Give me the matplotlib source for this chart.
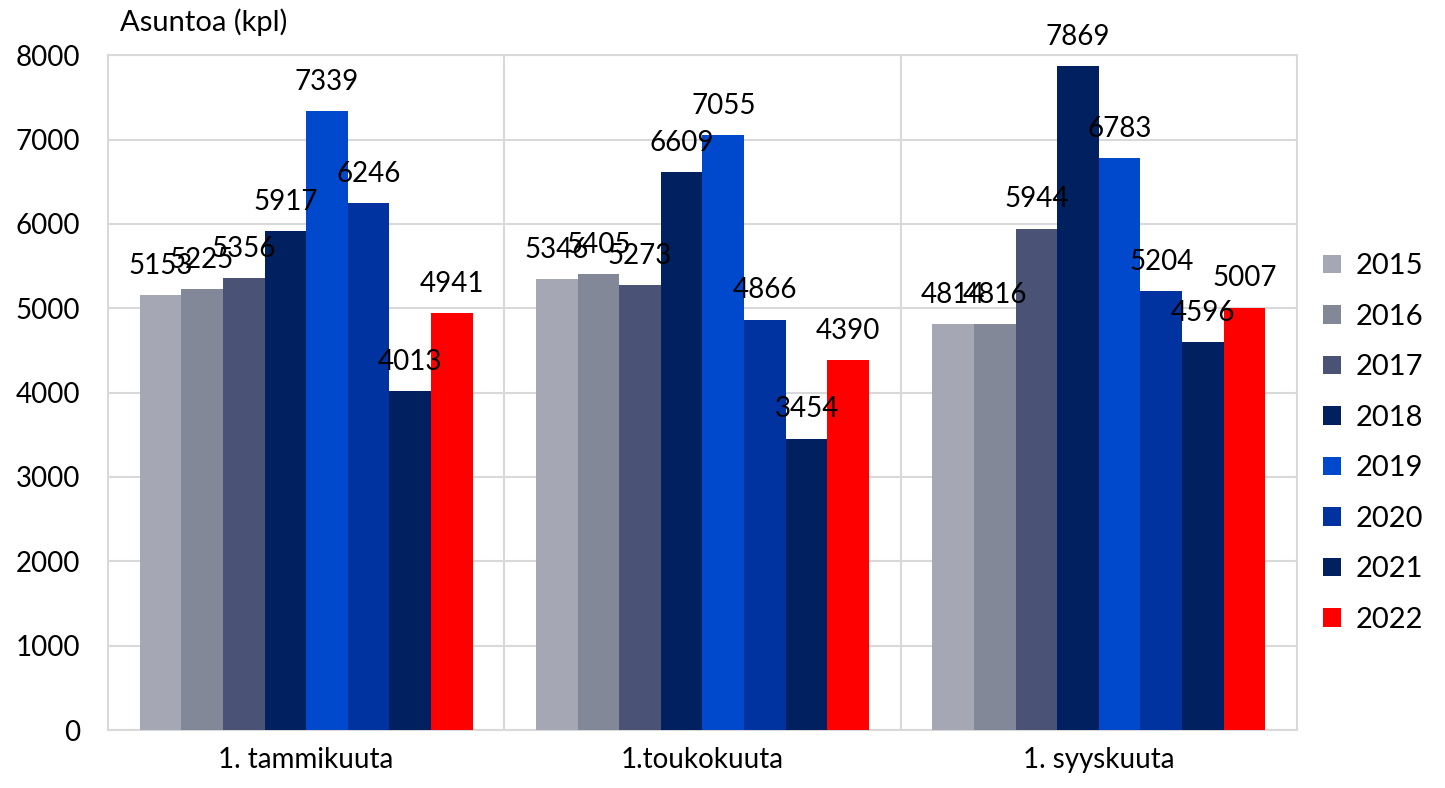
import numpy as np
import matplotlib
matplotlib.use("Agg")
import matplotlib.pyplot as plt

plt.rcParams['font.family'] = ['Lato', 'DejaVu Sans']

categories = ["1. tammikuuta", "1.toukokuuta", "1. syyskuuta"]
years = ["2015", "2016", "2017", "2018", "2019", "2020", "2021", "2022"]
values = {
    "2015": [5153, 5346, 4814],
    "2016": [5225, 5405, 4816],
    "2017": [5356, 5273, 5944],
    "2018": [5917, 6609, 7869],
    "2019": [7339, 7055, 6783],
    "2020": [6246, 4866, 5204],
    "2021": [4013, 3454, 4596],
    "2022": [4941, 4390, 5007],
}
colors = ["#A5A7B5", "#838899", "#4A5275", "#002060",
          "#0048CC", "#0033A0", "#002060", "#FF0000"]

fig = plt.figure(figsize=(14.45, 7.88), dpi=100)
ax = fig.add_axes([0.0747, 0.0736, 0.8229, 0.8564])

x = np.arange(len(categories))
width = 0.105
for i, yr in enumerate(years):
    pos = x + (i - 3.5) * width
    bars = ax.bar(pos, values[yr], width, color=colors[i], label=yr, zorder=3)
    for b, v in zip(bars, values[yr]):
        ax.annotate(str(v), (b.get_x() + b.get_width() / 2, v),
                    xytext=(0, 21), textcoords="offset points",
                    ha="center", va="center", fontsize=20, zorder=4)

ax.set_xlim(-0.5, 2.5)
ax.set_ylim(0, 8000)
ax.set_yticks(range(0, 8001, 1000))
ax.set_xticks(x)
ax.set_xticklabels(categories, fontsize=20)
ax.tick_params(axis='y', labelsize=20, length=0, pad=20)
ax.tick_params(axis='x', length=0, pad=12)
ax.grid(axis='y', color='#D9D9D9', linewidth=1.5, zorder=0)
for xv in [0.5, 1.5]:
    ax.axvline(xv, color='#D9D9D9', linewidth=1.5, zorder=0)
for s in ax.spines.values():
    s.set_color('#D9D9D9')
    s.set_linewidth(1.5)

fig.text(0.083, 0.972, "Asuntoa (kpl)", fontsize=21, ha="left", va="center")

ax.legend(loc="center left", bbox_to_anchor=(1.0, 0.425), frameon=False,
          fontsize=21, handlelength=0.6, handleheight=0.6,
          labelspacing=0.84, handletextpad=0.5)

fig.savefig("out.png", dpi=100)
